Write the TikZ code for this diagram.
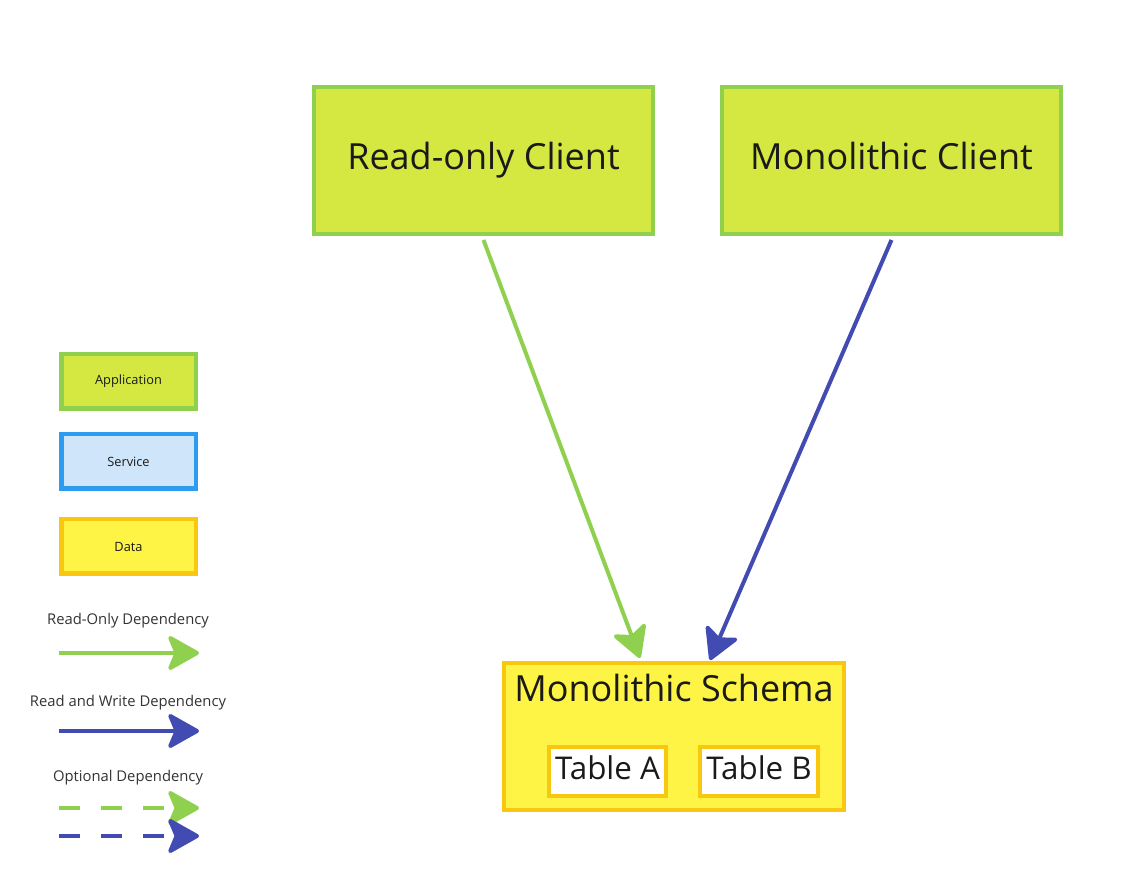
\documentclass[tikz,border=0pt]{standalone}
\usepackage{fontspec}
\setmainfont{Open Sans}
\usetikzlibrary{arrows.meta,calc}
\definecolor{appfill}{HTML}{D5E842}
\definecolor{appborder}{HTML}{8FD14F}
\definecolor{svcfill}{HTML}{CFE5FA}
\definecolor{svcborder}{HTML}{2D9BF0}
\definecolor{datafill}{HTML}{FEF445}
\definecolor{databorder}{HTML}{FAC710}
\definecolor{rwblue}{HTML}{414BB2}
\definecolor{txt}{HTML}{1A1A1A}
\definecolor{legtxt}{HTML}{333333}
\tikzset{
  box/.style={draw, line width=3pt, inner sep=0pt, text=txt},
  appbox/.style={box, draw=appborder, fill=appfill},
  svcbox/.style={box, draw=svcborder, fill=svcfill},
  databox/.style={box, draw=databorder, fill=datafill},
  bigbox/.style={minimum width=254.25pt, minimum height=110.25pt, text height=19.5pt, text depth=6pt, font=\fontsize{27}{32}\selectfont},
  legbox/.style={line width=3.5pt, minimum width=101pt, minimum height=41pt, font=\fontsize{9.6}{11}\selectfont},
  tablebox/.style={box, draw=databorder, fill=white, minimum height=36.75pt, text height=17pt, text depth=5pt, font=\fontsize{23.5}{28}\selectfont},
  legtext/.style={text=legtxt, font=\fontsize{11.1}{13}\selectfont, inner sep=0pt},
  dep/.style={line width=3pt, -{Stealth[length=26pt, width=29pt, inset=6pt, round]}},
  rodep/.style={dep, draw=appborder},
  rwdep/.style={dep, draw=rwblue},
  optdash/.style={dash pattern=on 15.75pt off 15.75pt}
}
\begin{document}
\begin{tikzpicture}[x=0.75pt,y=-0.75pt]
\useasboundingbox (0,0) rectangle (1136,880);
% main boxes
\node[appbox, bigbox] (roc) at (483.5,160.5) {Read-only Client};
\node[appbox, bigbox] (mc) at (891.5,160.5) {Monolithic Client};
\node[databox, minimum width=255pt, minimum height=110.25pt] (ms) at (674,736.5) {};
\node[text=txt, inner sep=0pt, text height=19.5pt, text depth=6pt, font=\fontsize{27}{32}\selectfont] (mst) at (674,692) {Monolithic Schema};
\node[tablebox, minimum width=87.75pt] (ta) at (607.5,771.5) {Table A};
\node[tablebox, minimum width=88.5pt] (tb) at (759,771.5) {Table B};
% main connectors
\draw[rodep] ([yshift=-3pt]roc.south) -- ($(ms.north)+(-34,-3)$);
\draw[rwdep] ([yshift=-3pt]mc.south) -- ($(ms.north)+(36,-1)$);
% legend boxes
\node[appbox, legbox] (lapp) at (128.5,381.5) {Application};
\node[svcbox, legbox] (lsvc) at (128.5,461.5) {Service};
\node[databox, legbox] (ldata) at (128.5,546.5) {Data};
% legend arrows
\node[legtext] (lro) at (128,621) {Read-Only Dependency};
\coordinate (ro1) at (59,653);
\coordinate (ro2) at (199,653);
\draw[rodep] (ro1) -- (ro2);
\node[legtext] (lrw) at (128,703) {Read and Write Dependency};
\coordinate (rw1) at (59,731);
\coordinate (rw2) at (199,731);
\draw[rwdep] (rw1) -- (rw2);
\node[legtext] (lopt) at (128,778) {Optional Dependency};
\coordinate (og1) at (59,808);
\coordinate (og2) at (199,808);
\draw[rodep, optdash] (og1) -- (og2);
\coordinate (ob1) at (59,836);
\coordinate (ob2) at (199,836);
\draw[rwdep, optdash] (ob1) -- (ob2);
\end{tikzpicture}
\end{document}
